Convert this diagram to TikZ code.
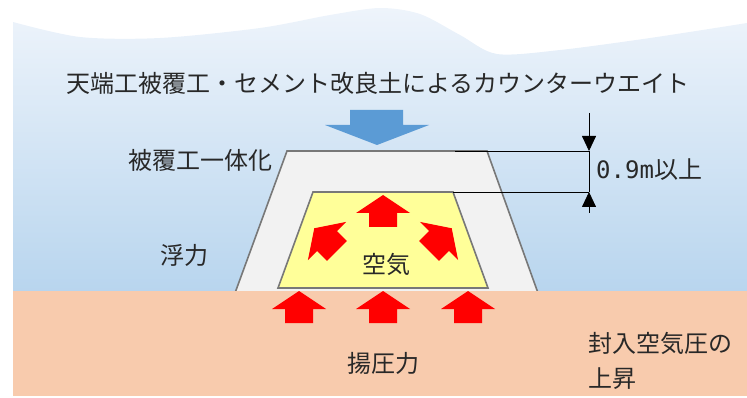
\documentclass[tikz,border=0pt]{standalone}
\usepackage{fontspec}
\setmainfont{Noto Sans CJK JP}
\newfontfamily\monofont{DejaVu Sans Mono}
\usepackage{tikz}
\usetikzlibrary{arrows.meta}
\definecolor{skyblue}{RGB}{238,244,251}
\definecolor{waterblue}{RGB}{184,213,238}
\definecolor{soil}{RGB}{248,203,173}
\definecolor{coverfill}{RGB}{242,242,242}
\definecolor{airyellow}{RGB}{255,255,153}
\definecolor{loadblue}{RGB}{91,155,213}
\definecolor{edgegray}{RGB}{120,120,120}
\definecolor{txtgray}{RGB}{40,40,40}
\tikzset{
    jptext/.style={
        text=txtgray,
        inner sep=0pt,
        font=\fontsize{24}{35}\selectfont
    },
    % 断面の外形線
    section/.style={
        line width=1.6pt,
        draw=edgegray,
        line join=miter
    },
    dimline/.style={
        line width=0.8pt,
        black
    },
    dimtip/.style={
        dimline,
        -{Triangle[length=15pt, width=14pt]}
    },
    % 赤い矢印（上向き、原点は矢じりの付け根）
    pics/pusharrow/.style={
        code={
            \fill[red] (0,-18) -- (27,0) -- (14,0) -- (14,14)
                -- (-14,14) -- (-14,0) -- (-27,0) -- cycle;
        }
    }
}

\begin{document}
\begin{tikzpicture}[x=1pt, y=-1pt]
   \useasboundingbox (0,0) rectangle (747,398);
   % 水
   \shade[top color=skyblue, bottom color=waterblue]
        plot[smooth] coordinates {(13,22) (80,37) (160,38) (260,28) (330,15)
            (380,8) (420,14) (460,35) (497,54) (560,50) (650,38) (747,23)}
        -- (747,292) -- (13,292) -- cycle;
   % 被覆工
   \coordinate (coTL) at (287,151);
   \coordinate (coTR) at (487,151);
   \coordinate (coBL) at (235,293);
   \coordinate (coBR) at (538,293);
   \fill[coverfill] (coBL) -- (coTL) -- (coTR) -- (coBR) -- cycle;
   \draw[section] (coBL) -- (coTL) -- (coTR) -- (coBR);
   % 地盤
   \fill[soil] (13,291) rectangle (747,396);
   % 空気
   \coordinate (aiTL) at (313,192);
   \coordinate (aiTR) at (453,192);
   \coordinate (aiBL) at (278,288);
   \coordinate (aiBR) at (488,288);
   \draw[section, fill=airyellow] (aiBL) -- (aiTL) -- (aiTR) -- (aiBR) -- cycle;
   % カウンターウエイトの荷重
   \fill[loadblue] (350,110) -- (403,110) -- (403,125) -- (429,125)
        -- (377,145) -- (325,125) -- (350,125) -- cycle;
   % 空気圧・揚圧力
   \pic at (383,213) {pusharrow};
   \pic[rotate=45] at (327,241) {pusharrow};
   \pic[rotate=-45] at (439,241) {pusharrow};
   \foreach \x in {299,383,468}
      \pic at (\x,309) {pusharrow};
   % 寸法線
   \coordinate (hiL) at (455,151);
   \coordinate (hiR) at (589,151);
   \coordinate (loR) at (589,192);
   \coordinate (dimA) at (589,113);
   \coordinate (dimB) at (589,213);
   \draw[dimline] (hiL) -- (hiR);
   \draw[dimline] (aiTR) -- (loR);
   \draw[dimline] (hiR) -- (loR);
   \draw[dimtip] (dimA) -- (hiR);
   \draw[dimtip] (dimB) -- (loR);
   % 文字
   \node[jptext] (title) at (378,83) {天端工被覆工・セメント改良土によるカウンターウエイト};
   \node[jptext] (unify) at (200,160) {被覆工一体化};
   \node[jptext] (buoy) at (184,255) {浮力};
   \node[jptext] (air) at (386,264) {空気};
   \node[jptext] (uplift) at (383,363) {揚圧力};
   \node[jptext, anchor=west] (thick) at (596,170) {{\monofont 0.9m}以上};
   \node[jptext, anchor=west, align=left] (rise) at (588,361) {封入空気圧の\\上昇};
\end{tikzpicture}
\end{document}
